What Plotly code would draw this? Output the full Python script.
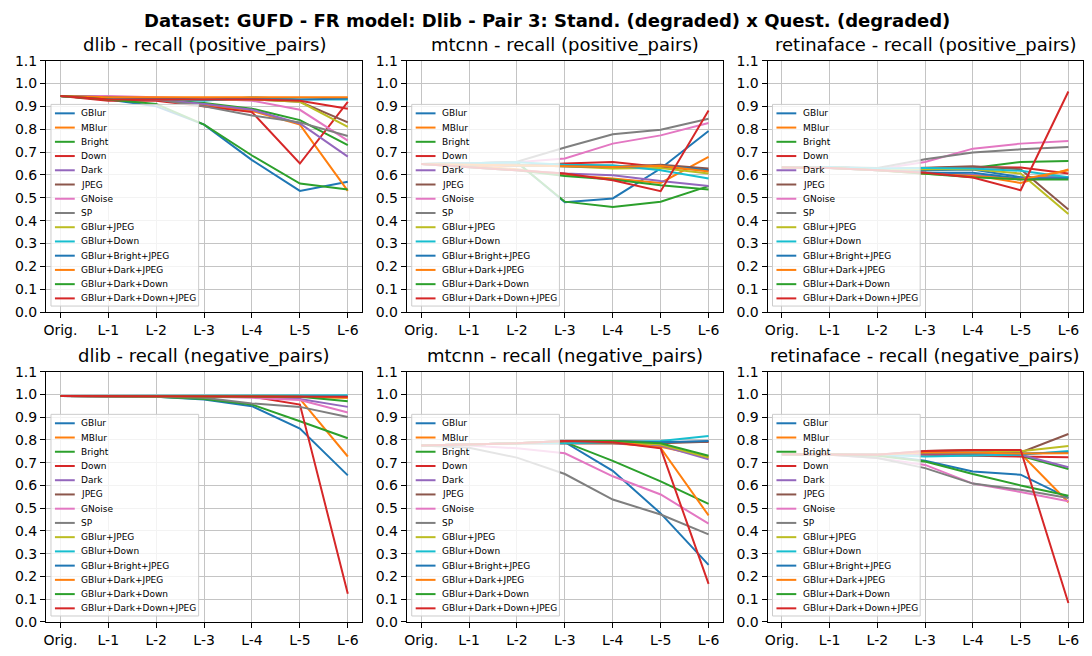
import plotly.graph_objects as go

# x levels and series names
levels = ['Orig.', 'L-1', 'L-2', 'L-3', 'L-4', 'L-5', 'L-6']
series = ['GBlur', 'MBlur', 'Bright', 'Down', 'Dark', 'JPEG', 'GNoise', 'SP',
          'GBlur+JPEG', 'GBlur+Down', 'GBlur+Bright+JPEG', 'GBlur+Dark+JPEG',
          'GBlur+Dark+Down', 'GBlur+Dark+Down+JPEG']

# recall values, one row per series (same order as `series`)
dlib_pos = [
    [0.945, 0.93, 0.90, 0.82, 0.665, 0.53, 0.57],
    [0.945, 0.935, 0.93, 0.905, 0.88, 0.82, 0.53],
    [0.945, 0.935, 0.93, 0.915, 0.89, 0.84, 0.73],
    [0.945, 0.925, 0.925, 0.90, 0.875, 0.65, 0.92],
    [0.945, 0.935, 0.93, 0.91, 0.885, 0.825, 0.68],
    [0.945, 0.935, 0.935, 0.93, 0.93, 0.92, 0.83],
    [0.945, 0.945, 0.94, 0.935, 0.925, 0.885, 0.75],
    [0.945, 0.935, 0.93, 0.90, 0.86, 0.83, 0.77],
    [0.945, 0.935, 0.935, 0.93, 0.93, 0.92, 0.81],
    [0.945, 0.935, 0.935, 0.925, 0.94, 0.93, 0.93],
    [0.945, 0.94, 0.935, 0.93, 0.935, 0.93, 0.935],
    [0.945, 0.94, 0.94, 0.94, 0.94, 0.94, 0.94],
    [0.945, 0.93, 0.91, 0.82, 0.685, 0.5625, 0.536],
    [0.945, 0.93, 0.93, 0.93, 0.93, 0.925, 0.89],
]
mtcnn_pos = [
    [0.648, 0.65, 0.655, 0.48, 0.497, 0.628, 0.792],
    [0.648, 0.64, 0.625, 0.60, 0.584, 0.565, 0.679],
    [0.648, 0.65, 0.655, 0.483, 0.46, 0.483, 0.551],
    [0.648, 0.645, 0.64, 0.65, 0.657, 0.635, 0.62],
    [0.648, 0.635, 0.62, 0.606, 0.599, 0.573, 0.552],
    [0.648, 0.645, 0.64, 0.64, 0.635, 0.645, 0.628],
    [0.648, 0.65, 0.655, 0.672, 0.737, 0.773, 0.827],
    [0.648, 0.65, 0.658, 0.72, 0.778, 0.798, 0.846],
    [0.648, 0.645, 0.64, 0.638, 0.628, 0.63, 0.606],
    [0.648, 0.65, 0.655, 0.645, 0.642, 0.62, 0.584],
    [0.648, 0.645, 0.64, 0.64, 0.635, 0.64, 0.62],
    [0.648, 0.645, 0.64, 0.64, 0.635, 0.64, 0.615],
    [0.648, 0.635, 0.62, 0.595, 0.58, 0.555, 0.536],
    [0.648, 0.635, 0.62, 0.606, 0.577, 0.529, 0.882],
]
retina_pos = [
    [0.632, 0.635, 0.625, 0.62, 0.624, 0.59, 0.59],
    [0.632, 0.635, 0.625, 0.61, 0.60, 0.565, 0.624],
    [0.632, 0.635, 0.625, 0.625, 0.63, 0.657, 0.661],
    [0.632, 0.635, 0.625, 0.63, 0.635, 0.632, 0.606],
    [0.632, 0.63, 0.62, 0.61, 0.60, 0.585, 0.59],
    [0.632, 0.635, 0.625, 0.63, 0.638, 0.625, 0.449],
    [0.632, 0.635, 0.625, 0.657, 0.715, 0.737, 0.749],
    [0.632, 0.635, 0.63, 0.669, 0.698, 0.712, 0.722],
    [0.632, 0.635, 0.625, 0.625, 0.625, 0.606, 0.429],
    [0.632, 0.635, 0.628, 0.63, 0.628, 0.618, 0.59],
    [0.632, 0.63, 0.62, 0.61, 0.61, 0.584, 0.585],
    [0.632, 0.63, 0.62, 0.605, 0.595, 0.58, 0.62],
    [0.632, 0.63, 0.62, 0.605, 0.59, 0.58, 0.58],
    [0.632, 0.63, 0.62, 0.609, 0.589, 0.533, 0.965],
]
dlib_neg = [
    [0.993, 0.993, 0.99, 0.977, 0.948, 0.85, 0.644],
    [0.993, 0.993, 0.993, 0.993, 0.993, 0.98, 0.727],
    [0.993, 0.993, 0.99, 0.98, 0.955, 0.882, 0.807],
    [0.993, 0.993, 0.993, 0.993, 0.99, 0.955, 0.124],
    [0.993, 0.993, 0.993, 0.993, 0.99, 0.98, 0.945],
    [0.993, 0.993, 0.993, 0.993, 0.993, 0.993, 0.99],
    [0.993, 0.993, 0.993, 0.99, 0.985, 0.975, 0.92],
    [0.993, 0.993, 0.99, 0.985, 0.96, 0.945, 0.901],
    [0.993, 0.993, 0.993, 0.993, 0.993, 0.99, 0.985],
    [0.993, 0.993, 0.993, 0.993, 0.993, 0.995, 0.996],
    [0.993, 0.993, 0.993, 0.993, 0.993, 0.993, 0.99],
    [0.993, 0.993, 0.993, 0.993, 0.993, 0.99, 0.985],
    [0.993, 0.993, 0.993, 0.993, 0.993, 0.99, 0.97],
    [0.993, 0.993, 0.993, 0.993, 0.993, 0.993, 0.99],
]
mtcnn_neg = [
    [0.775, 0.78, 0.785, 0.79, 0.664, 0.477, 0.251],
    [0.775, 0.78, 0.785, 0.785, 0.785, 0.77, 0.725],
    [0.775, 0.78, 0.785, 0.79, 0.708, 0.618, 0.519],
    [0.775, 0.78, 0.785, 0.795, 0.795, 0.79, 0.792],
    [0.775, 0.78, 0.785, 0.785, 0.785, 0.775, 0.715],
    [0.775, 0.78, 0.785, 0.785, 0.785, 0.785, 0.792],
    [0.775, 0.775, 0.763, 0.741, 0.64, 0.56, 0.432],
    [0.775, 0.765, 0.722, 0.65, 0.538, 0.472, 0.385],
    [0.775, 0.78, 0.785, 0.79, 0.79, 0.78, 0.722],
    [0.775, 0.78, 0.785, 0.785, 0.79, 0.795, 0.817],
    [0.775, 0.78, 0.785, 0.795, 0.795, 0.79, 0.795],
    [0.775, 0.78, 0.785, 0.795, 0.795, 0.765, 0.468],
    [0.775, 0.78, 0.785, 0.795, 0.795, 0.785, 0.73],
    [0.775, 0.78, 0.785, 0.795, 0.79, 0.763, 0.167],
]
retina_neg = [
    [0.737, 0.737, 0.735, 0.708, 0.661, 0.647, 0.545],
    [0.737, 0.737, 0.735, 0.74, 0.74, 0.74, 0.526],
    [0.737, 0.737, 0.735, 0.74, 0.735, 0.73, 0.672],
    [0.737, 0.737, 0.735, 0.735, 0.73, 0.727, 0.724],
    [0.737, 0.737, 0.735, 0.74, 0.74, 0.735, 0.68],
    [0.737, 0.737, 0.735, 0.751, 0.756, 0.745, 0.826],
    [0.737, 0.735, 0.72, 0.69, 0.608, 0.571, 0.53],
    [0.737, 0.735, 0.72, 0.676, 0.608, 0.581, 0.545],
    [0.737, 0.737, 0.735, 0.745, 0.745, 0.75, 0.773],
    [0.737, 0.737, 0.735, 0.727, 0.73, 0.735, 0.751],
    [0.737, 0.737, 0.735, 0.745, 0.745, 0.74, 0.745],
    [0.737, 0.737, 0.735, 0.745, 0.745, 0.74, 0.741],
    [0.737, 0.737, 0.73, 0.705, 0.65, 0.60, 0.555],
    [0.737, 0.737, 0.735, 0.751, 0.756, 0.756, 0.083],
]

panels = [
    ('dlib - recall (positive_pairs)', dlib_pos),
    ('mtcnn - recall (positive_pairs)', mtcnn_pos),
    ('retinaface - recall (positive_pairs)', retina_pos),
    ('dlib - recall (negative_pairs)', dlib_neg),
    ('mtcnn - recall (negative_pairs)', mtcnn_neg),
    ('retinaface - recall (negative_pairs)', retina_neg),
]

tab10 = ['#1f77b4', '#ff7f0e', '#2ca02c', '#d62728', '#9467bd',
         '#8c564b', '#e377c2', '#7f7f7f', '#bcbd22', '#17becf']

# the page body has an 8px margin; keep the figure small enough that the
# page does not overflow the window (no scrollbars)
W, H = 1076, 640
OFF = 8
FONT = 'DejaVu Sans'
col_px = [(43, 362), (407, 726), (771, 1089)]
row_px = [(63, 316), (376, 628)]


def px(x):
    # target screen x -> paper x (slight squeeze to fit the window)
    sx = 3.4 + 0.9911 * x
    return (sx - OFF) / W


def py(y):
    sy = -1.9 + 0.9934 * y
    return 1 - (sy - OFF) / H


fig = go.Figure()
layout = dict(
    width=W, height=H,
    margin=dict(l=0, r=0, t=0, b=0, autoexpand=False),
    paper_bgcolor='white', plot_bgcolor='white',
    font=dict(family=FONT, color='black'),
    showlegend=False,
)
annotations = []
shapes = []

for k, (title, data) in enumerate(panels):
    r, c = divmod(k, 3)
    x0, x1 = col_px[c]
    y0, y1 = row_px[r]
    n = '' if k == 0 else str(k + 1)

    for i, name in enumerate(series):
        fig.add_trace(go.Scatter(
            x=levels, y=data[i], name=name, mode='lines',
            line=dict(color=tab10[i % 10], width=2),
            xaxis='x' + n, yaxis='y' + n,
        ))

    axis_common = dict(
        showline=True, mirror=True, linecolor='black', linewidth=1,
        ticks='outside', ticklen=5, tickcolor='black', automargin=False,
        showgrid=True, gridcolor='#c4c4c4', gridwidth=1, zeroline=False,
        tickfont=dict(family=FONT, size=14),
    )
    layout['xaxis' + n] = dict(
        axis_common, domain=[px(x0), px(x1)], anchor='y' + n,
        type='category', range=[-0.3, 6.3],
    )
    layout['yaxis' + n] = dict(
        axis_common, domain=[py(y1), py(y0)], anchor='x' + n,
        range=[0, 1.1], dtick=0.1, tickformat='.1f',
    )

    # subplot title
    annotations.append(dict(
        text=title, xref='paper', yref='paper',
        x=px((x0 + x1) / 2), y=py(y0 - 16), xanchor='center', yanchor='middle',
        showarrow=False, font=dict(family=FONT, size=18),
    ))

    # matplotlib-style legend box in the lower left of each panel
    bl, bb = x0 + 5, y1 - 6
    br, bt = bl + 149, bb - 203
    shapes.append(dict(
        type='rect', xref='paper', yref='paper', layer='above',
        x0=px(bl), x1=px(br), y0=py(bb), y1=py(bt),
        fillcolor='rgba(255,255,255,0.8)', line=dict(color='#cccccc', width=1),
    ))
    for i, name in enumerate(series):
        yc = bt + 9 + i * 14.33
        shapes.append(dict(
            type='line', xref='paper', yref='paper', layer='above',
            x0=px(bl + 4), x1=px(bl + 24), y0=py(yc), y1=py(yc),
            line=dict(color=tab10[i % 10], width=2),
        ))
        annotations.append(dict(
            text=name, xref='paper', yref='paper',
            x=px(bl + 28.5), y=py(yc), xanchor='left', yanchor='middle',
            showarrow=False, font=dict(family=FONT, size=9),
        ))

# figure title, hung from the top edge so it is not clipped
annotations.append(dict(
    text='<b>Dataset: GUFD - FR model: Dlib - Pair 3: Stand. (degraded) x Quest. (degraded)</b>',
    xref='paper', yref='paper', x=px(548), y=1,
    xanchor='center', yanchor='top', showarrow=False,
    font=dict(family=FONT, size=18),
))

layout['annotations'] = annotations
layout['shapes'] = shapes
fig.update_layout(**layout)

fig.write_html("out.html")
